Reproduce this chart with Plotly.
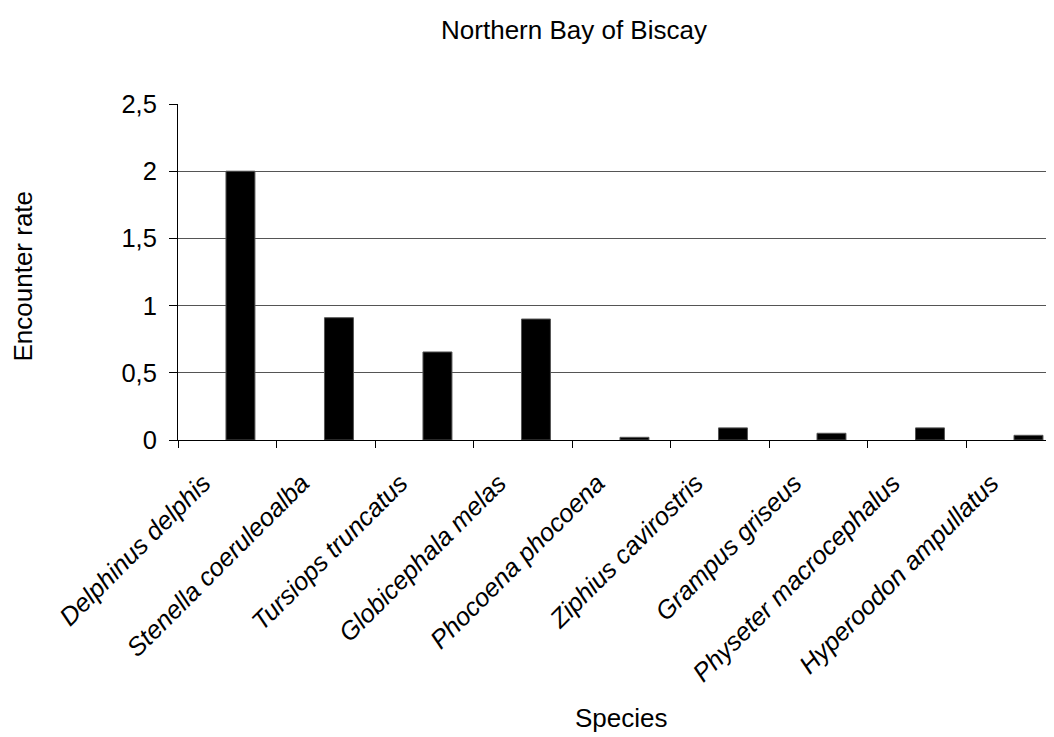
import plotly.graph_objects as go

species = ["Delphinus delphis", "Stenella coeruleoalba", "Tursiops truncatus",
           "Globicephala melas", "Phocoena phocoena", "Ziphius cavirostris",
           "Grampus griseus", "Physeter macrocephalus", "Hyperoodon ampullatus"]
encounter_rate = [2.0, 0.91, 0.655, 0.9, 0.02, 0.09, 0.05, 0.09, 0.035]
y_ticks = [0, 0.5, 1, 1.5, 2, 2.5]
y_ticklabels = ["0", "0,5", "1", "1,5", "2", "2,5"]

FONT = "Liberation Sans, Arial, sans-serif"

# page body has an 8px margin; figure sized so it ends at the window edge
W, H = 1046, 729
L, T, B = 170, 96, 297
PW, PH = W - L, H - T - B

fig = go.Figure()
fig.add_trace(go.Bar(
    x=species,
    y=encounter_rate,
    width=0.294,
    offset=-0.013,
    marker=dict(color="black", line=dict(color="#555555", width=1)),
))

fig.update_layout(
    width=W, height=H,
    margin=dict(l=L, r=0, t=T, b=B, pad=0),
    paper_bgcolor="white", plot_bgcolor="white",
    showlegend=False,
    font=dict(family=FONT, color="black", size=25.5),
    title=dict(text="Northern Bay of Biscay", x=566 / W, xref="container",
               xanchor="center", y=1 - 22 / H, yref="container", yanchor="middle",
               font=dict(size=26)),
)

fig.update_xaxes(
    type="category",
    categoryorder="array", categoryarray=species,
    range=[-0.5, 8.393],
    tickmode="array",
    tickvals=species,
    ticktext=["<i>" + s + "</i>" for s in species],
    tickangle=-45,
    tickson="boundaries",
    ticks="outside", ticklen=7, tickcolor="black", tickwidth=1,
    ticklabelshift=-24, ticklabelstandoff=17,
    showline=True, linecolor="black", linewidth=1,
    showgrid=False, zeroline=False,
    tickfont=dict(size=25.5),
)
fig.update_yaxes(
    range=[0, 2.5],
    tickmode="array", tickvals=y_ticks, ticktext=y_ticklabels,
    ticks="outside", ticklen=8, tickcolor="black", tickwidth=1,
    ticklabelstandoff=7,
    showline=True, linecolor="black", linewidth=1,
    showgrid=True, gridcolor="#555555", gridwidth=1,
    zeroline=False,
    tickfont=dict(size=25.5),
)

fig.add_annotation(text="Encounter rate", textangle=-90,
                   x=(14 - L) / PW, y=(T + PH - 268.5) / PH,
                   xref="paper", yref="paper", showarrow=False,
                   xanchor="center", yanchor="middle", font=dict(size=26))
fig.add_annotation(text="Species", x=(613 - L) / PW, y=-(710 - (T + PH)) / PH,
                   xref="paper", yref="paper", showarrow=False,
                   xanchor="center", yanchor="middle", font=dict(size=26))

fig.write_html("out.html")
